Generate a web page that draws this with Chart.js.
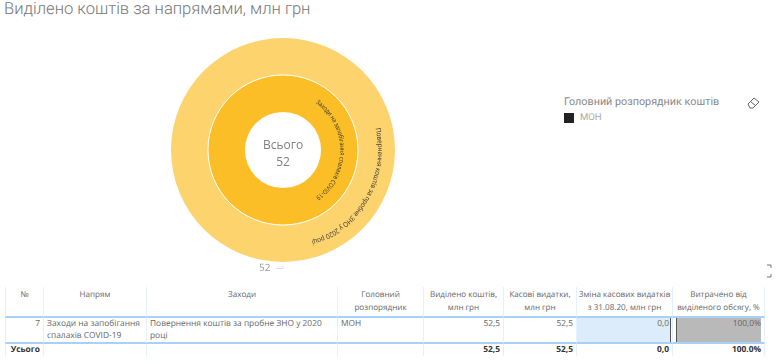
<!DOCTYPE html>
<html lang="uk">
<head>
<meta charset="utf-8">
<script src="https://cdn.jsdelivr.net/npm/chart.js@4"></script>
<style>
  html, body { margin: 0; padding: 0; background: #fff; overflow: hidden; }
  body { width: 777px; height: 364px; position: relative; font-family: "Open Sans", sans-serif; color: #666; text-rendering: geometricPrecision; }
  .abs { position: absolute; white-space: nowrap; }
  #title { left: 4px; top: 0; font: 300 16.6px/20px Roboto, sans-serif; color: #777; }
  #chartBox { position: absolute; left: 171px; top: 38px; width: 224px; height: 224px; }
  #legendTitle { left: 564px; top: 95px; font: 400 10.8px Roboto, sans-serif; color: #888; }
  #legendSwatch { position: absolute; left: 564px; top: 113px; width: 10px; height: 10px; background: #222; }
  #legendItem { left: 580px; top: 112px; font: 400 9.5px Roboto, sans-serif; color: #aaa; }
  #outerLabel { left: 259px; top: 260px; font-size: 10px; color: #999; }
  #tbl { position: absolute; left: 5px; top: 287px; border-collapse: separate; border-spacing: 0; table-layout: fixed; width: 760px; font-size: 8.4px; line-height: 12px; }
  #tbl th { font-weight: 400; font-size: 8.1px; line-height: 13px; color: #666; text-align: center; vertical-align: top; white-space: nowrap; padding: 1px 0 0; height: 28px; border-right: 1px solid #e4f0fb; border-bottom: 2px solid #a9d1f5; box-sizing: content-box; }
  #tbl th:first-child, #tbl td:first-child { border-left: 1px solid #e4f0fb; }
  #tbl td { vertical-align: top; padding: 0 3px; color: #666; border-right: 1px solid #e4f0fb; white-space: nowrap; }
  #tbl tbody td { height: 24px; padding-top: 0; border-bottom: 2px solid #a9d1f5; box-sizing: border-box; position: relative; }
  #tbl tfoot td { font-weight: 700; color: #333; height: 12px; line-height: 12px; font-size: 8.4px; }
  .num { text-align: right; }
  .bar { position: absolute; top: 0; bottom: 0; }
  .val { position: relative; }
</style>
</head>
<body>
<div id="title" class="abs"></div>
<div id="chartBox"><canvas id="chart" width="224" height="224"></canvas></div>
<div id="legendTitle" class="abs"></div>
<div id="legendSwatch"></div>
<div id="legendItem" class="abs"></div>
<svg class="abs" style="left:746px;top:96px" width="14" height="14" viewBox="0 0 14 14">
  <path d="M2 8 L8 2 L13 6 L7 12 L4 12 Z M4.5 5.5 L10 10" fill="none" stroke="#666" stroke-width="1"/>
</svg>
<div id="outerLabel" class="abs"></div>
<svg class="abs" style="left:275px;top:265px" width="10" height="5"><path d="M1 3.5 H8 V0.5" fill="none" stroke="#ddd"/></svg>
<svg class="abs" style="left:765px;top:264px" width="9" height="15"><path d="M2 1 H6 V4 M6 10 V13 H2" fill="none" stroke="#777"/></svg>
<table id="tbl"></table>

<script>
const chartTitle = "Виділено коштів за напрямами, млн грн";
const legendTitle = "Головний розпорядник коштів";
const legendItems = ["МОН"];
const centerLabel = "Всього";
const centerValue = "52";
const outerLabel = "52";

const ringLabels = ["Повернення коштів за пробне ЗНО у 2020 році", "Заходи на запобігання спалахів COVID-19"];
const ringValues = [52.5, 52.5];

const headers = ["№", "Напрям", "Заходи", "Головний<br>розпорядник", "Виділено коштів,<br>млн грн", "Касові видатки,<br>млн грн", "Зміна касових видатків<br>з 31.08.20, млн грн", "Витрачено від<br>виділеного обсягу, %"];
const colWidths = [39, 103, 191, 86, 80, 73, 96, 92];
const rowValues = ["7", "Заходи на запобігання<br>спалахів COVID-19", "Повернення коштів за пробне ЗНО у 2020<br>році", "МОН", "52,5", "52,5", "0,0", "100,0%"];
const totalValues = ["Усього", "", "", "", "52,5", "52,5", "0,0", "100.0%"];
const numericCols = [0, 4, 5, 6, 7];

document.getElementById("title").textContent = chartTitle;
document.getElementById("legendTitle").textContent = legendTitle;
document.getElementById("legendItem").textContent = legendItems[0];
document.getElementById("outerLabel").textContent = outerLabel;

/* ===== TABLE ===== */
let html = "<colgroup>" + colWidths.map(w => `<col style="width:${w}px">`).join("") + "</colgroup>";
html += "<thead><tr>" + headers.map(h => `<th>${h}</th>`).join("") + "</tr></thead><tbody><tr>";
rowValues.forEach((v, i) => {
    let cls = numericCols.includes(i) ? "num" : "";
    let bar = "";
    if (i === 6) bar = '<div class="bar" style="left:0;width:93px;background:#dcecfb;border-right:1px solid #555"></div>';
    if (i === 7) bar = '<div class="bar" style="left:3px;width:84px;background:#b9b9b9;border-left:1px solid #555"></div>';
    html += `<td class="${cls}">${bar}<span class="val">${v}</span></td>`;
});
html += "</tr></tbody><tfoot><tr>";
totalValues.forEach((v, i) => {
    html += `<td class="${numericCols.includes(i) ? "num" : ""}">${v}</td>`;
});
html += "</tr></tfoot>";
document.getElementById("tbl").innerHTML = html;

/* ===== CURVED LABELS + CENTER TEXT ===== */
const curvedLabels = {
    id: "curvedLabels",
    afterDatasetsDraw(chart) {
        const ctx = chart.ctx;
        const spans = [[77, 162.5, 3.5, 7], [35, 145, 2.5, 6.5]];

        // white ring between the two bands
        const inner = chart.getDatasetMeta(1).data[0];
        ctx.save();
        ctx.strokeStyle = "#fff";
        ctx.lineWidth = 1;
        ctx.beginPath();
        ctx.arc(inner.x, inner.y, inner.outerRadius, 0, Math.PI * 2);
        ctx.stroke();
        ctx.restore();

        spans.forEach((span, d) => {
            const arc = chart.getDatasetMeta(d).data[0];
            const r = (arc.innerRadius + arc.outerRadius) / 2 + span[2];
            const text = ringLabels[d];
            ctx.save();
            ctx.font = span[3] + 'px "Open Sans", sans-serif';
            ctx.fillStyle = "#333";
            ctx.textAlign = "left";
            ctx.textBaseline = "middle";
            const full = ctx.measureText(text).width;
            const arcLen = (span[1] - span[0]) * Math.PI / 180 * r;
            const fit = arcLen / full;
            let run = 0;
            for (const ch of text) {
                const w = ctx.measureText(ch).width;
                const a = (span[0] + (run + w * fit / 2) / arcLen * (span[1] - span[0])) * Math.PI / 180 - Math.PI / 2;
                ctx.save();
                ctx.translate(arc.x + Math.cos(a) * r, arc.y + Math.sin(a) * r);
                ctx.rotate(a + Math.PI / 2);
                ctx.scale(fit, 1);
                ctx.fillText(ch, -w / 2, 0);
                ctx.restore();
                run += w * fit;
            }
            ctx.restore();
        });
        const c = chart.getDatasetMeta(0).data[0];
        ctx.save();
        ctx.fillStyle = "#808080";
        ctx.font = '12px "Open Sans", sans-serif';
        ctx.textAlign = "center";
        ctx.textBaseline = "middle";
        ctx.fillText(centerLabel, c.x, c.y - 4);
        ctx.fillText(centerValue, c.x, c.y + 13);
        ctx.restore();
    }
};

/* ===== DOUGHNUT ===== */
new Chart(document.getElementById("chart"), {
    type: "doughnut",
    data: {
        labels: ["Сума"],
        datasets: [
            { label: ringLabels[0], data: [ringValues[0]], backgroundColor: "#FDD36E", borderWidth: 0 },
            { label: ringLabels[1], data: [ringValues[1]], backgroundColor: "#FBBE26", borderWidth: 0 }
        ]
    },
    options: {
        responsive: false,
        animation: false,
        cutout: "34%",
        plugins: { legend: { display: false }, tooltip: { enabled: false } }
    },
    plugins: [curvedLabels]
});
</script>
</body>
</html>
